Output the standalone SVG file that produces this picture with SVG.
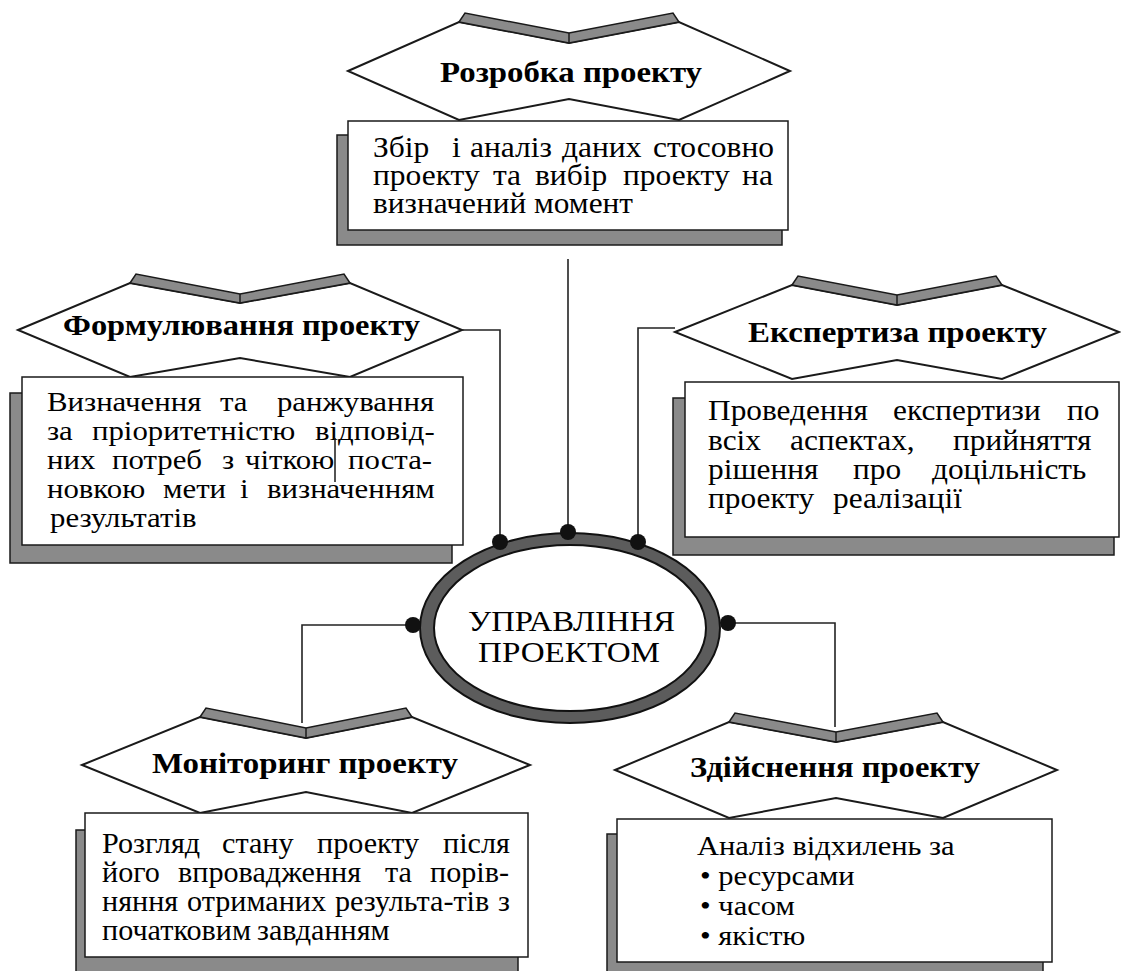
<svg xmlns="http://www.w3.org/2000/svg" width="1121" height="971" viewBox="0 0 1121 971">
<style>
.hex{fill:#fff;stroke:#1a1a1a;stroke-width:2;stroke-linejoin:miter}
.band{fill:#8a8a8a;stroke:#1a1a1a;stroke-width:1.5}
.shadow{fill:#8a8a8a;stroke:#1a1a1a;stroke-width:1.5}
.box{fill:#fff;stroke:#1a1a1a;stroke-width:1.5}
text{font-family:'Liberation Serif','Times New Roman',serif;fill:#000}
.h{font-weight:bold;font-size:29px}
.t30{font-size:30px}
.t29{font-size:29px}
.t28{font-size:28px}
.c{font-size:30px}
.ln{fill:none;stroke:#222;stroke-width:1.6}
.dot{fill:#111}
</style>
<rect width="1121" height="971" fill="#fff"/>

<g id="node-rozrobka">
<polygon class="hex" points="348,71 459,22 569,43 679,22 790,71 679,120 569,99 459,120"/>
<polygon class="band" points="459,22 465,13 569,33 673,13 679,22 569,43"/>
<line x1="569" y1="33" x2="569" y2="43" stroke="#1a1a1a" stroke-width="1.5"/>
<text class="h" x="440" y="82" textLength="262" lengthAdjust="spacingAndGlyphs">Розробка проекту</text>
<rect class="shadow" x="337" y="135" width="445" height="110"/>
<rect class="box" x="348" y="121" width="440" height="109"/>
<g transform="scale(1.05,1)">
<text class="t30" y="157"><tspan x="355.2">Збір</tspan><tspan x="430.5">і</tspan><tspan x="447.6">аналіз</tspan><tspan x="535.2">даних</tspan><tspan x="621.9">стосовно</tspan></text>
<text class="t30" y="185"><tspan x="355.2">проекту</tspan><tspan x="469.5">та</tspan><tspan x="509.5">вибір</tspan><tspan x="593.3">проекту</tspan><tspan x="706.7">на</tspan></text>
</g>
<text class="t30" x="373" y="213" textLength="260" lengthAdjust="spacingAndGlyphs">визначений момент</text>
</g>

<g id="node-formuliuvannia">
<polygon class="hex" points="18,330 130,283 240,303 350,283 462,330 350,377 240,358 130,377"/>
<polygon class="band" points="130,283 136,274 240,294 344,274 350,283 240,303"/>
<line x1="240" y1="294" x2="240" y2="303" stroke="#1a1a1a" stroke-width="1.5"/>
<text class="h" x="63" y="335" textLength="357" lengthAdjust="spacingAndGlyphs">Формулювання проекту</text>
<rect class="shadow" x="10" y="393" width="442" height="170"/>
<rect class="box" x="22" y="377" width="441" height="168"/>
<g transform="scale(1.1,1)">
<text class="t28" y="411"><tspan x="42.7">Визначення</tspan><tspan x="200">та</tspan><tspan x="251.8">ранжування</tspan></text>
<text class="t28" y="440"><tspan x="42.7">за</tspan><tspan x="83.6">пріоритетністю</tspan><tspan x="286.4">відповід-</tspan></text>
<text class="t28" y="469"><tspan x="42.7">них</tspan><tspan x="101.8">потреб</tspan><tspan x="201.8">з</tspan><tspan x="222.7">чіткою</tspan><tspan x="316.4">поста-</tspan></text>
<text class="t28" y="498"><tspan x="42.7">новкою</tspan><tspan x="148.2">мети</tspan><tspan x="218.2">і</tspan><tspan x="242.7">визначенням</tspan></text>
<text class="t28" x="45.5" y="527">результатів</text>
</g>
<line x1="335" y1="438" x2="335" y2="482" stroke="#1a1a1a" stroke-width="1.5"/>
</g>

<g id="node-ekspertyza">
<polygon class="hex" points="675,332 792,285 897,305 1002,285 1119,332 1002,379 897,360 792,379"/>
<polygon class="band" points="792,285 798,276 897,295 996,276 1002,285 897,305"/>
<line x1="897" y1="295" x2="897" y2="305" stroke="#1a1a1a" stroke-width="1.5"/>
<text class="h" x="748" y="342" textLength="299" lengthAdjust="spacingAndGlyphs">Експертиза проекту</text>
<rect class="shadow" x="673" y="398" width="441" height="157"/>
<rect class="box" x="685" y="382" width="434" height="155"/>
<g transform="scale(1.08,1)">
<text class="t29" y="420"><tspan x="655.6">Проведення</tspan><tspan x="826.9">експертизи</tspan><tspan x="988">по</tspan></text>
<text class="t29" y="450"><tspan x="655.6">всіх</tspan><tspan x="731.5">аспектах,</tspan><tspan x="882.4">прийняття</tspan></text>
<text class="t29" y="479"><tspan x="655.6">рішення</tspan><tspan x="789.8">про</tspan><tspan x="863">доцільність</tspan></text>
<text class="t29" y="508"><tspan x="655.6">проекту</tspan><tspan x="771.3">реалізації</tspan></text>
</g>
</g>

<g id="node-upravlinnia">
<ellipse cx="570" cy="628" rx="150" ry="95" fill="#5c5c5c" stroke="#111" stroke-width="2"/>
<ellipse cx="570" cy="628" rx="136" ry="83" fill="#fff" stroke="#111" stroke-width="2"/>
<text class="c" x="468" y="631" textLength="207" lengthAdjust="spacingAndGlyphs">УПРАВЛІННЯ</text>
<text class="c" x="478" y="662" textLength="182" lengthAdjust="spacingAndGlyphs">ПРОЕКТОМ</text>
</g>

<g id="node-monitoring">
<polygon class="hex" points="82,765 200,717 306,738 412,717 530,765 412,813 306,792 200,813"/>
<polygon class="band" points="200,717 206,708 306,728 406,708 412,717 306,738"/>
<line x1="306" y1="728" x2="306" y2="738" stroke="#1a1a1a" stroke-width="1.5"/>
<text class="h" x="152" y="773" textLength="306" lengthAdjust="spacingAndGlyphs">Моніторинг проекту</text>
<rect class="shadow" x="76" y="830" width="442" height="145"/>
<rect class="box" x="85" y="813" width="443" height="144"/>
<g transform="scale(1.04,1)">
<text class="t29" y="853"><tspan x="98.1">Розгляд</tspan><tspan x="213.5">стану</tspan><tspan x="304.8">проекту</tspan><tspan x="426">після</tspan></text>
<text class="t29" y="882"><tspan x="98.1">його</tspan><tspan x="171.2">впровадження</tspan><tspan x="370.2">та</tspan><tspan x="413.5">порів-</tspan></text>
<text class="t29" y="911"><tspan x="98.1">няння</tspan><tspan x="179.8">отриманих</tspan><tspan x="322.1">результа-тів</tspan><tspan x="478.8">з</tspan></text>
<text class="t29" y="940"><tspan x="98.1">початковим</tspan><tspan x="247.1">завданням</tspan></text>
</g>
</g>

<g id="node-zdiisnennia">
<polygon class="hex" points="615,770 729,722 836,742 943,722 1057,770 943,818 836,798 729,818"/>
<polygon class="band" points="729,722 735,713 836,732 937,713 943,722 836,742"/>
<line x1="836" y1="732" x2="836" y2="742" stroke="#1a1a1a" stroke-width="1.5"/>
<text class="h" x="690" y="777" textLength="290" lengthAdjust="spacingAndGlyphs">Здійснення проекту</text>
<rect class="shadow" x="607" y="834" width="436" height="141"/>
<rect class="box" x="617" y="819" width="435" height="143"/>
<g transform="scale(1.09,1)">
<text class="t28" x="639.4" y="855">Аналіз відхилень за</text>
<text class="t28" x="642.2" y="885">• ресурсами</text>
<text class="t28" x="642.2" y="915">• часом</text>
<text class="t28" x="642.2" y="945">• якістю</text>
</g>
</g>

<g id="connectors">
<polyline class="ln" points="568,259 568,532"/>
<polyline class="ln" points="462,330 500,330 500,542"/>
<polyline class="ln" points="675,328 638,328 638,542"/>
<polyline class="ln" points="413,625 302,625 302,723"/>
<polyline class="ln" points="728,623 835,623 835,727"/>
<circle class="dot" cx="500" cy="542" r="8"/>
<circle class="dot" cx="568" cy="532" r="8"/>
<circle class="dot" cx="638" cy="542" r="8"/>
<circle class="dot" cx="413" cy="625" r="8"/>
<circle class="dot" cx="728" cy="623" r="8"/>
</g>
</svg>
